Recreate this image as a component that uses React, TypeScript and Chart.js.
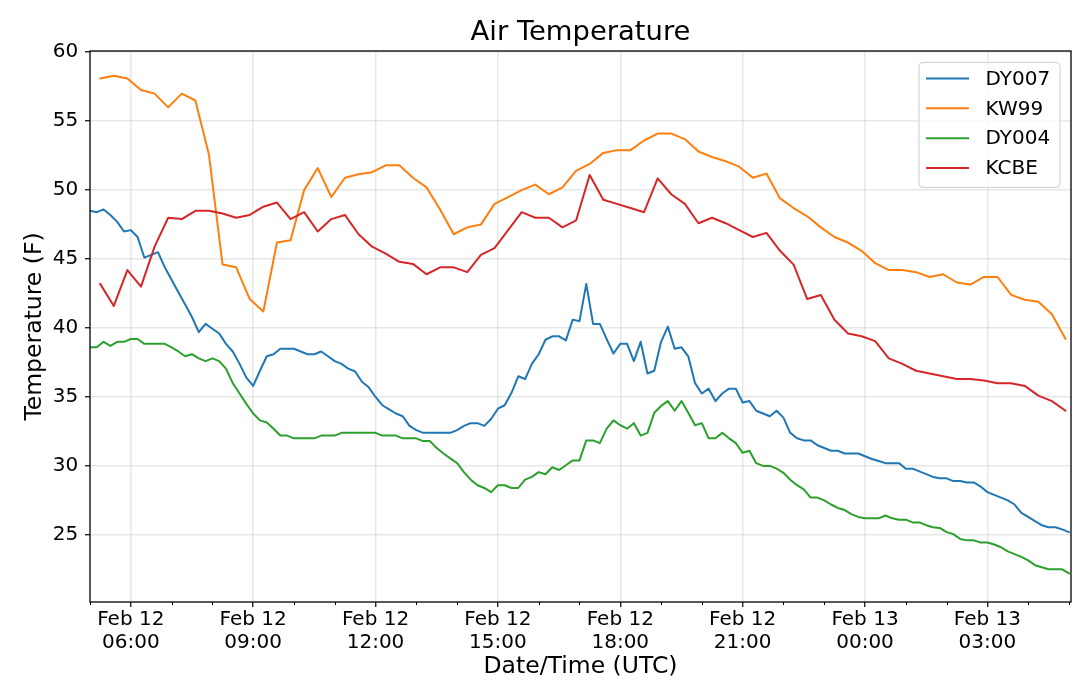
import { useEffect, useRef } from 'react';
import { Chart, registerables } from 'chart.js';

Chart.register(...registerables);

const TITLE = 'Air Temperature';
const X_LABEL = 'Date/Time (UTC)';
const Y_LABEL = 'Temperature (F)';
const FONT = '"DejaVu Sans", "Liberation Sans", sans-serif';

const SERIES_NAMES = ['DY007', 'KW99', 'DY004', 'KCBE'];
const SERIES_COLORS = ['#1f77b4', '#ff7f0e', '#2ca02c', '#d62728'];

// time in hours since Feb 12 00:00 UTC
const DY_START_HOUR = 5;
const DY_STEP_HOURS = 1 / 6;
const STATION_START_HOUR = 5.25;
const STATION_STEP_HOURS = 1 / 3;

const X_MIN = 5;
const X_MAX = 29.05;
const Y_MIN = 20.13;
const Y_MAX = 60.09;
const Y_TICKS = [25, 30, 35, 40, 45, 50, 55, 60];
const X_TICK_HOURS = [5, 6, 7, 8, 9, 10, 11, 12, 13, 14, 15, 16, 17, 18, 19, 20, 21, 22, 23, 24, 25, 26, 27, 28, 29];
const X_MAJOR_HOURS = [6, 9, 12, 15, 18, 21, 24, 27];
const X_MAJOR_LABELS = [
  ['Feb 12', '06:00'],
  ['Feb 12', '09:00'],
  ['Feb 12', '12:00'],
  ['Feb 12', '15:00'],
  ['Feb 12', '18:00'],
  ['Feb 12', '21:00'],
  ['Feb 13', '00:00'],
  ['Feb 13', '03:00'],
];

// DY007, every 10 minutes from 05:00 (one hour per row)
const DY007 = [
  48.5, 48.4, 48.6, 48.2, 47.7, 47.0,
  47.1, 46.6, 45.1, 45.3, 45.5, 44.4,
  43.5, 42.6, 41.7, 40.8, 39.7, 40.3,
  39.95, 39.6, 38.85, 38.3, 37.4, 36.4,
  35.8, 36.9, 37.95, 38.1, 38.5, 38.5,
  38.5, 38.3, 38.1, 38.1, 38.3, 37.95,
  37.6, 37.4, 37.05, 36.85, 36.1, 35.7,
  35.0, 34.4, 34.1, 33.8, 33.6, 32.9,
  32.6, 32.4, 32.4, 32.4, 32.4, 32.4,
  32.6, 32.9, 33.1, 33.1, 32.9, 33.4,
  34.15, 34.4, 35.3, 36.5, 36.3, 37.4,
  38.1, 39.15, 39.4, 39.4, 39.1, 40.6,
  40.5, 43.2, 40.3, 40.3, 39.2, 38.15,
  38.85, 38.85, 37.6, 39.0, 36.7, 36.9,
  39.0, 40.1, 38.5, 38.6, 37.95, 36.0,
  35.25, 35.6, 34.7, 35.25, 35.6, 35.6,
  34.6, 34.7, 34.0, 33.8, 33.6, 34.0,
  33.5, 32.4, 32.0, 31.85, 31.85, 31.5,
  31.3, 31.1, 31.1, 30.9, 30.9, 30.9,
  30.7, 30.5, 30.35, 30.2, 30.2, 30.2,
  29.8, 29.8, 29.6, 29.4, 29.2, 29.1,
  29.1, 28.9, 28.9, 28.8, 28.8, 28.5,
  28.1, 27.9, 27.7, 27.5, 27.2, 26.6,
  26.3, 26.0, 25.7, 25.55, 25.55, 25.4,
  25.2,
];

// DY004, every 10 minutes from 05:00
const DY004 = [
  38.6, 38.6, 39.0, 38.7, 39.0, 39.0,
  39.2, 39.2, 38.85, 38.85, 38.85, 38.85,
  38.6, 38.3, 37.95, 38.1, 37.8, 37.6,
  37.8, 37.6, 37.05, 36.0, 35.25, 34.5,
  33.8, 33.3, 33.15, 32.7, 32.2, 32.2,
  32.0, 32.0, 32.0, 32.0, 32.2, 32.2,
  32.2, 32.4, 32.4, 32.4, 32.4, 32.4,
  32.4, 32.2, 32.2, 32.2, 32.0, 32.0,
  32.0, 31.8, 31.8, 31.3, 30.9, 30.55,
  30.2, 29.55, 29.0, 28.6, 28.4, 28.1,
  28.6, 28.6, 28.4, 28.4, 29.0, 29.2,
  29.55, 29.4, 29.9, 29.7, 30.05, 30.4,
  30.4, 31.85, 31.85, 31.65, 32.7, 33.3,
  32.95, 32.7, 33.1, 32.2, 32.4, 33.85,
  34.35, 34.7, 34.0, 34.7, 33.85, 32.95,
  33.1, 32.0, 32.0, 32.4, 32.0, 31.65,
  30.95, 31.1, 30.2, 30.0, 30.0, 29.8,
  29.5, 29.0, 28.6, 28.3, 27.7, 27.7,
  27.5, 27.2, 26.95, 26.8, 26.5, 26.3,
  26.2, 26.2, 26.2, 26.4, 26.2, 26.1,
  26.1, 25.9, 25.9, 25.7, 25.55, 25.5,
  25.2, 25.05, 24.7, 24.6, 24.6, 24.45,
  24.45, 24.3, 24.1, 23.8, 23.6, 23.4,
  23.15, 22.8, 22.65, 22.5, 22.5, 22.5,
  22.2,
];

// KW99, every 20 minutes from 05:15 (two hours per row)
const KW99 = [
  58.1, 58.3, 58.1, 57.26, 57.0, 56.0,
  57.0, 56.5, 52.56, 44.6, 44.4, 42.1,
  41.2, 46.2, 46.36, 50.0, 51.6, 49.5,
  50.9, 51.15, 51.3, 51.8, 51.8, 50.9,
  50.2, 48.6, 46.8, 47.3, 47.5, 49.0,
  49.5, 50.0, 50.4, 49.7, 50.2, 51.4,
  51.9, 52.7, 52.9, 52.9, 53.6, 54.1,
  54.1, 53.7, 52.8, 52.4, 52.1, 51.7,
  50.9, 51.2, 49.4, 48.7, 48.1, 47.3,
  46.6, 46.2, 45.6, 44.7, 44.2, 44.2,
  44.05, 43.7, 43.9, 43.3, 43.15, 43.7,
  43.7, 42.4, 42.05, 41.9, 41.0, 39.2,
];

// KCBE, every 20 minutes from 05:15
const KCBE = [
  43.2, 41.6, 44.2, 43.0, 45.9, 48.0,
  47.9, 48.5, 48.5, 48.3, 48.0, 48.2,
  48.8, 49.1, 47.9, 48.4, 47.0, 47.9,
  48.2, 46.8, 45.9, 45.4, 44.8, 44.65,
  43.9, 44.4, 44.4, 44.05, 45.3, 45.8,
  47.1, 48.4, 48.0, 48.0, 47.3, 47.8,
  51.1, 49.3, 49.0, 48.7, 48.4, 50.85,
  49.7, 49.0, 47.6, 48.0, 47.6, 47.1,
  46.6, 46.9, 45.6, 44.6, 42.1, 42.4,
  40.6, 39.6, 39.4, 39.05, 37.8, 37.4,
  36.9, 36.7, 36.5, 36.3, 36.3, 36.2,
  36.0, 36.0, 35.8, 35.1, 34.7, 34.0,
];

const SERIES_VALUES = [DY007, KW99, DY004, KCBE];
const SERIES_STARTS = [DY_START_HOUR, STATION_START_HOUR, DY_START_HOUR, STATION_START_HOUR];
const SERIES_STEPS = [DY_STEP_HOURS, STATION_STEP_HOURS, DY_STEP_HOURS, STATION_STEP_HOURS];

const GRID_COLOR = 'rgba(176,176,176,0.3)';
const TICK_FONT_SIZE = 20;
const LABEL_FONT_SIZE = 23.5;
const TITLE_FONT_SIZE = 27.4;
const isMajor = (v: number) => X_MAJOR_HOURS.indexOf(v) >= 0;

const framePlugin = {
  id: 'frameAndExtras',
  afterDraw(chart: any) {
    const { ctx, chartArea } = chart;
    const { left, right, top, bottom } = chartArea;
    const xScale = chart.scales.x;
    ctx.save();
    // minor ticks
    ctx.strokeStyle = '#000';
    ctx.lineWidth = 1;
    X_TICK_HOURS.forEach((h) => {
      if (isMajor(h)) return;
      const px = Math.round(xScale.getPixelForValue(h)) + 0.5;
      ctx.beginPath();
      ctx.moveTo(px, bottom);
      ctx.lineTo(px, bottom + 3);
      ctx.stroke();
    });
    // frame
    ctx.lineWidth = 1.3;
    ctx.strokeRect(left, top, right - left, bottom - top);
    // title
    ctx.fillStyle = '#000';
    ctx.font = `${TITLE_FONT_SIZE}px ${FONT}`;
    ctx.textAlign = 'center';
    ctx.textBaseline = 'alphabetic';
    ctx.fillText(TITLE, (left + right) / 2, top - 11);
    // legend
    const bw = 141;
    const bh = 125;
    const bx = right - 11 - bw;
    const by = top + 11.4;
    const r = 4;
    ctx.beginPath();
    ctx.moveTo(bx + r, by);
    ctx.arcTo(bx + bw, by, bx + bw, by + bh, r);
    ctx.arcTo(bx + bw, by + bh, bx, by + bh, r);
    ctx.arcTo(bx, by + bh, bx, by, r);
    ctx.arcTo(bx, by, bx + bw, by, r);
    ctx.closePath();
    ctx.fillStyle = 'rgba(255,255,255,0.8)';
    ctx.fill();
    ctx.strokeStyle = '#cccccc';
    ctx.lineWidth = 1;
    ctx.stroke();
    ctx.font = `${TICK_FONT_SIZE}px ${FONT}`;
    ctx.textAlign = 'left';
    ctx.textBaseline = 'middle';
    chart.data.datasets.forEach((ds: any, i: number) => {
      const yy = by + 16 + i * 29.9;
      ctx.strokeStyle = ds.borderColor;
      ctx.lineWidth = 2;
      ctx.beginPath();
      ctx.moveTo(bx + 7, yy);
      ctx.lineTo(bx + 50, yy);
      ctx.stroke();
      ctx.fillStyle = '#000';
      ctx.fillText(ds.label, bx + 66.5, yy + 1);
    });
    ctx.restore();
  },
};

export default function App() {
  const canvasRef = useRef<HTMLCanvasElement | null>(null);

  useEffect(() => {
    if (!canvasRef.current) return;
    Chart.defaults.font.family = FONT;
    Chart.defaults.color = '#000';
    const datasets = SERIES_NAMES.map((name, si) => ({
      label: name,
      data: SERIES_VALUES[si].map((v, i) => ({ x: SERIES_STARTS[si] + i * SERIES_STEPS[si], y: v })),
      borderColor: SERIES_COLORS[si],
      backgroundColor: SERIES_COLORS[si],
      borderWidth: 2,
      pointRadius: 0,
      tension: 0,
      fill: false,
      borderJoinStyle: 'round' as const,
      borderCapStyle: 'round' as const,
      order: SERIES_NAMES.length - si,
    }));
    const chart = new Chart(canvasRef.current, {
      type: 'line',
      data: { datasets },
      options: {
        animation: false,
        responsive: false,
        maintainAspectRatio: false,
        layout: { padding: { left: 0, right: 9, top: 51, bottom: 0 } },
        plugins: {
          legend: { display: false },
          title: { display: false },
          tooltip: { enabled: false },
        },
        scales: {
          x: {
            type: 'linear',
            min: X_MIN,
            max: X_MAX,
            afterBuildTicks: (s: any) => {
              s.ticks = X_TICK_HOURS.map((h) => ({ value: h }));
            },
            afterFit: (s: any) => {
              s.height = 90;
            },
            border: { display: false },
            grid: {
              color: (c: any) => (c.tick && isMajor(c.tick.value) ? GRID_COLOR : 'rgba(0,0,0,0)'),
              lineWidth: 1.5,
              tickColor: (c: any) => (c.tick && isMajor(c.tick.value) ? '#000' : 'rgba(0,0,0,0)'),
              tickLength: 5,
              tickWidth: 1.2,
            },
            ticks: {
              autoSkip: false,
              maxRotation: 0,
              minRotation: 0,
              padding: 1,
              color: '#000',
              font: { size: TICK_FONT_SIZE, lineHeight: 1.165 },
              callback: (v: any) => {
                const idx = X_MAJOR_HOURS.indexOf(Number(v));
                return idx >= 0 ? X_MAJOR_LABELS[idx] : '';
              },
            },
            title: {
              display: true,
              text: X_LABEL,
              color: '#000',
              font: { size: LABEL_FONT_SIZE, lineHeight: 1.2 },
              padding: { top: 0, bottom: 11 },
            },
          },
          y: {
            type: 'linear',
            min: Y_MIN,
            max: Y_MAX,
            afterBuildTicks: (s: any) => {
              s.ticks = Y_TICKS.map((v) => ({ value: v }));
            },
            afterFit: (s: any) => {
              s.width = 90;
            },
            border: { display: false },
            grid: {
              color: GRID_COLOR,
              lineWidth: 1.5,
              tickColor: '#000',
              tickLength: 5,
              tickWidth: 1.2,
            },
            ticks: {
              padding: 6.7,
              color: '#000',
              font: { size: TICK_FONT_SIZE },
            },
            title: {
              display: true,
              text: Y_LABEL,
              color: '#000',
              font: { size: LABEL_FONT_SIZE, lineHeight: 1.2 },
              padding: { top: 21, bottom: 0 },
            },
          },
        },
      },
      plugins: [framePlugin],
    });
    return () => chart.destroy();
  }, []);

  return (
    <div style={{ position: 'absolute', left: 0, top: 0, width: 1080, height: 692, background: '#fff' }}>
      <canvas ref={canvasRef} width={1080} height={692} style={{ display: 'block', width: 1080, height: 692 }} />
    </div>
  );
}
